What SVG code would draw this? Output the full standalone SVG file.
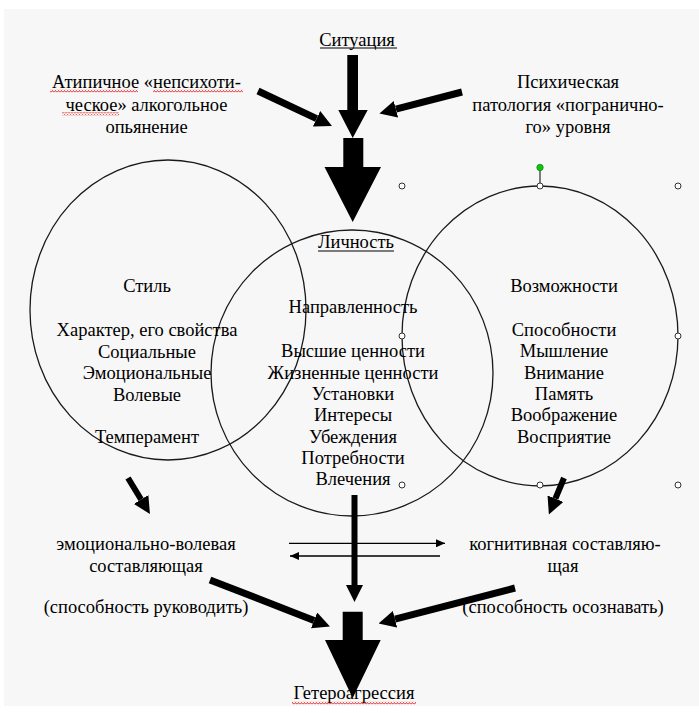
<svg xmlns="http://www.w3.org/2000/svg" width="699" height="713" viewBox="0 0 699 713">
<style>
text{font-family:"Liberation Serif","Times New Roman",serif;font-size:18.5px;fill:#000;text-anchor:middle}
.ring{fill:none;stroke:#1a1a1a;stroke-width:1.3}
.thick{stroke:#000;stroke-width:7;fill:none;marker-end:url(#head)}
.mid{stroke:#000;stroke-width:6;fill:none;marker-end:url(#head)}
.thin{stroke:#000;stroke-width:1.3;fill:none;marker-end:url(#thinhead)}
.block{fill:#000}
.ul{stroke:#000;stroke-width:1}
.handle{fill:#fff;stroke:#333;stroke-width:1}
.squig{fill:url(#wave)}
</style>
<defs>
<marker id="head" markerUnits="userSpaceOnUse" viewBox="0 0 17 17" markerWidth="17" markerHeight="17" refX="0" refY="8.5" orient="auto">
<path d="M0,0 L17,8.5 L0,17 z" fill="#000"/>
</marker>
<marker id="thinhead" markerUnits="userSpaceOnUse" viewBox="0 0 9 8" markerWidth="9" markerHeight="8" refX="9" refY="4" orient="auto">
<path d="M0,0 L9,4 L0,8 z" fill="#000"/>
</marker>
<pattern id="wave" patternUnits="userSpaceOnUse" width="3" height="3">
<path d="M0,2.5 L1.5,0.5 L3,2.5" fill="none" stroke="#e00000" stroke-width="0.8"/>
</pattern>
</defs>
<rect x="0" y="0" width="699" height="713" fill="#ffffff"/>
<rect x="4" y="9" width="695" height="697" fill="#f7f7f7"/>

<g id="circle-style"><ellipse class="ring" cx="168" cy="310" rx="138" ry="150"/></g>
<g id="circle-personality"><ellipse class="ring" cx="352" cy="373" rx="141" ry="143"/></g>
<g id="circle-abilities"><ellipse class="ring" cx="540" cy="336" rx="138" ry="150"/></g>

<g id="selection-handles">
<line x1="540" y1="168" x2="540" y2="186" stroke="#000" stroke-width="1"/>
<circle cx="540" cy="167.5" r="3.2" fill="#00d000" stroke="#2a7a2a" stroke-width="0.8"/>
<circle class="handle" cx="402" cy="186" r="3"/>
<circle class="handle" cx="540" cy="186" r="3"/>
<circle class="handle" cx="678" cy="186" r="3"/>
<circle class="handle" cx="402" cy="336" r="3"/>
<circle class="handle" cx="678" cy="336" r="3"/>
<circle class="handle" cx="402" cy="485" r="3"/>
<circle class="handle" cx="540" cy="485" r="3"/>
<circle class="handle" cx="678" cy="485" r="3"/>
</g>

<g id="connectors">
<polygon class="block" points="347.3,55 358,55 358,110 367.7,110 352.7,138 338.3,110 347.3,110"/>
<polygon class="block" points="343.3,138 363.3,138 363.3,167 381,167 352.7,222 324.5,167 343.3,167"/>
<line class="thick" x1="258" y1="91" x2="316.6" y2="118.7"/>
<line class="thick" x1="462" y1="92" x2="395.9" y2="109.2"/>
<line class="mid" x1="128" y1="478" x2="141.1" y2="499.5"/>
<line class="mid" x1="564" y1="478" x2="555.4" y2="498.7"/>
<line class="mid" x1="354.5" y1="495" x2="354.5" y2="585"/>
<line class="thin" x1="289" y1="543.3" x2="445" y2="543.3"/>
<line class="thin" x1="440" y1="556" x2="290" y2="556"/>
<line class="thick" x1="210" y1="580" x2="314.1" y2="620.4"/>
<line class="thick" x1="515" y1="588" x2="395" y2="619.2"/>
<polygon class="block" points="342.7,611.7 362.7,611.7 362.7,640 380.7,640 352.7,698 325,640 342.7,640"/>
</g>

<g id="node-situation">
<text x="357" y="45.5">Ситуация</text>
<line class="ul" x1="320" y1="48" x2="397" y2="48"/>
</g>

<g id="node-intoxication">
<text x="146.5" y="88">Атипичное «непсихоти-</text>
<text x="146.5" y="111">ческое» алкогольное</text>
<text x="146.5" y="132.5">опьянение</text>
<rect class="squig" x="50" y="89.5" width="88" height="3"/>
<rect class="squig" x="153" y="89.5" width="90" height="3"/>
<rect class="squig" x="62" y="112.3" width="57" height="3"/>
</g>

<g id="node-pathology">
<text x="568" y="88">Психическая</text>
<text x="568" y="111">патология «погранично-</text>
<text x="568" y="132.5">го» уровня</text>
</g>

<g id="node-style">
<text x="147" y="292">Стиль</text>
<text x="147" y="336">Характер, его свойства</text>
<text x="147" y="357.5">Социальные</text>
<text x="147" y="379">Эмоциональные</text>
<text x="147" y="400.5">Волевые</text>
<text x="147" y="443">Темперамент</text>
</g>

<g id="node-personality">
<text x="356" y="248">Личность</text>
<line class="ul" x1="318" y1="251" x2="394" y2="251"/>
<text x="353" y="313">Направленность</text>
<text x="353" y="357">Высшие ценности</text>
<text x="353" y="378.5">Жизненные ценности</text>
<text x="353" y="400">Установки</text>
<text x="353" y="421">Интересы</text>
<text x="353" y="442.5">Убеждения</text>
<text x="353" y="464">Потребности</text>
<text x="353" y="485">Влечения</text>
</g>

<g id="node-abilities">
<text x="564" y="292">Возможности</text>
<text x="564" y="335.5">Способности</text>
<text x="564" y="357">Мышление</text>
<text x="564" y="378.5">Внимание</text>
<text x="564" y="400">Память</text>
<text x="564" y="421">Воображение</text>
<text x="564" y="442.5">Восприятие</text>
</g>

<g id="node-emotional">
<text x="146" y="550">эмоционально-волевая</text>
<text x="146" y="572">составляющая</text>
<text x="146" y="613">(способность руководить)</text>
</g>

<g id="node-cognitive">
<text x="565" y="550">когнитивная составляю-</text>
<text x="563" y="572">щая</text>
<text x="563" y="613">(способность осознавать)</text>
</g>

<g id="node-heteroaggression">
<text x="354" y="699">Гетероагрессия</text>
<rect class="squig" x="292" y="701.5" width="124" height="3"/>
</g>
</svg>
